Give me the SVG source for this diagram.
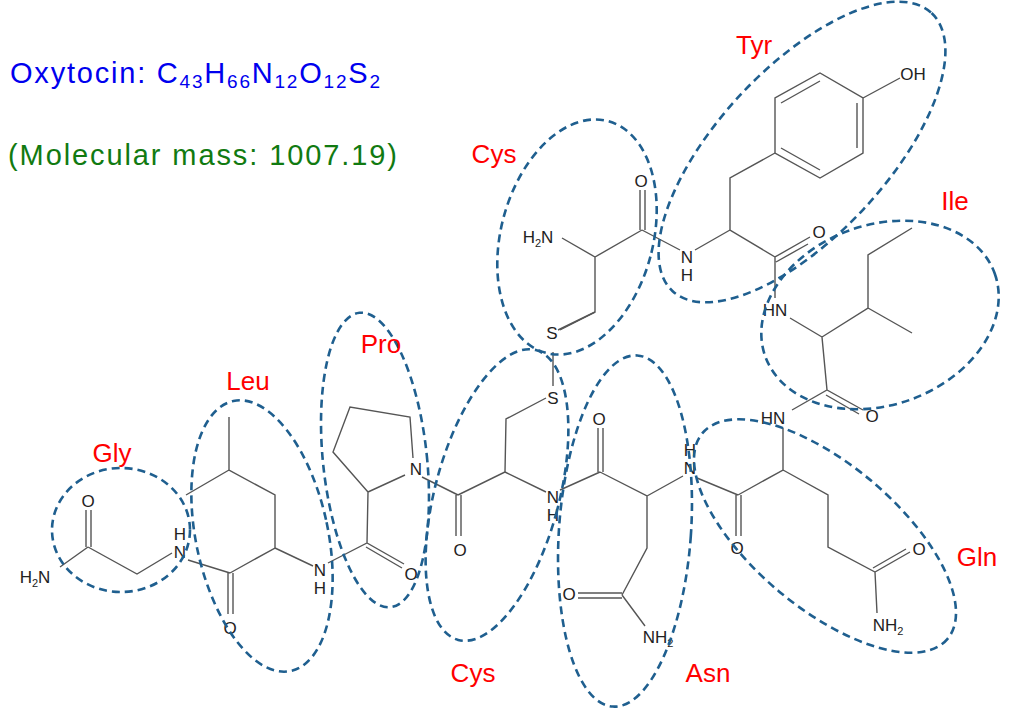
<svg xmlns="http://www.w3.org/2000/svg" width="1024" height="711" viewBox="0 0 1024 711">
<style>
.b{stroke:#555;stroke-width:1.4;fill:none}
.a{font-family:"Liberation Sans",Arial,sans-serif;font-size:17px;fill:#222;text-anchor:middle}
.s{font-size:11px}
.l{font-family:"Liberation Sans",Arial,sans-serif;font-size:26px;fill:#f00;text-anchor:middle}
.e{stroke:#1f5f8f;stroke-width:2.6;stroke-dasharray:8 5;fill:none}
</style>
<rect width="1024" height="711" fill="#fff"/>
<g id="title" font-family="'Liberation Sans',Arial,sans-serif">
<text x="10" y="83" font-size="29" fill="#0000ee" textLength="370" lengthAdjust="spacing">Oxytocin: C<tspan font-size="19" dy="5">43</tspan><tspan dy="-5">H</tspan><tspan font-size="19" dy="5">66</tspan><tspan dy="-5">N</tspan><tspan font-size="19" dy="5">12</tspan><tspan dy="-5">O</tspan><tspan font-size="19" dy="5">12</tspan><tspan dy="-5">S</tspan><tspan font-size="19" dy="5">2</tspan></text>
<text x="8" y="165" font-size="29" fill="#117a11" textLength="389" lengthAdjust="spacing">(Molecular mass: 1007.19)</text>
</g>
<g id="bonds">
<path class="b" d="M60,567L88,547M86,547V510M91,547V510M88,547L137,574L172,553"/>
<path class="b" d="M188,560L230,573M228,573V614M233,573V614M230,573L275,548V495L229,470V417M229,470L186,495M275,548L313,566"/>
<path class="b" d="M328,563L367,543L404,564M366,547L402,568M367,543L368,492L333,452L350,407L410,417L413,458M405,475L368,492"/>
<path class="b" d="M422,477L458,495M456,495V536M461,495V536M458,495L505,472L506,419L546,398M553,386V352M558,330L595,312M505,472L546,492"/>
<path class="b" d="M560,490L600,472M598,472V428M603,472V428M600,472L647,496V548L622,595M622,593H578M622,598H578M622,595L645,626M647,496L683,476"/>
<path class="b" d="M697,478L738,495M736,495V536M741,495V536M738,495L783,470V428M783,470L828,495V547L875,572L910,552M873,568L906,549M875,572L877,613"/>
<path class="b" d="M792,410L827,390L863,410M826,395L859,414M827,390L822,337L868,308V255L912,228M868,308L912,333M822,337L790,318"/>
<path class="b" d="M775,298V257L810,237M776,262L808,244M775,257L730,230V178L775,153"/>
<path class="b" d="M775,153V98L820,73L863,98V153L820,178Z"/>
<path class="b" d="M781,103L820,81M857,103V148M820,170L781,148M863,98L900,78"/>
<path class="b" d="M730,230L695,250M680,250L642,230M640,230V190M645,230V190M642,230L595,257L562,238M595,257V312L560,330"/>
</g>
<g id="atoms">
<text class="a" x="35" y="583">H<tspan class="s" dy="4">2</tspan><tspan dy="-4">N</tspan></text>
<text class="a" x="88" y="507">O</text>
<text class="a" x="180" y="540">H</text><text class="a" x="180" y="558">N</text>
<text class="a" x="230" y="634">O</text>
<text class="a" x="320" y="576">N</text><text class="a" x="320" y="594">H</text>
<text class="a" x="411" y="580">O</text>
<text class="a" x="416" y="475">N</text>
<text class="a" x="460" y="556">O</text>
<text class="a" x="553" y="404">S</text>
<text class="a" x="552" y="339">S</text>
<text class="a" x="553" y="503">N</text><text class="a" x="553" y="521">H</text>
<text class="a" x="599" y="425">O</text>
<text class="a" x="569" y="600">O</text>
<text class="a" x="658" y="643">NH<tspan class="s" dy="4">2</tspan></text>
<text class="a" x="690" y="456">H</text><text class="a" x="690" y="474">N</text>
<text class="a" x="737" y="554">O</text>
<text class="a" x="773" y="424">HN</text>
<text class="a" x="919" y="555">O</text>
<text class="a" x="888" y="631">NH<tspan class="s" dy="4">2</tspan></text>
<text class="a" x="872" y="422">O</text>
<text class="a" x="775" y="316">HN</text>
<text class="a" x="819" y="238">O</text>
<text class="a" x="913" y="80">OH</text>
<text class="a" x="687" y="263">N</text><text class="a" x="687" y="281">H</text>
<text class="a" x="641" y="187">O</text>
<text class="a" x="538" y="243">H<tspan class="s" dy="4">2</tspan><tspan dy="-4">N</tspan></text>
</g>
<g id="residues">
<ellipse class="e" cx="121" cy="530" rx="69" ry="62"/>
<ellipse class="e" cx="262" cy="536" rx="66" ry="138" transform="rotate(-12 262 536)"/>
<ellipse class="e" cx="375" cy="460" rx="52" ry="148" transform="rotate(-6 375 460)"/>
<ellipse class="e" cx="497" cy="495" rx="62" ry="150" transform="rotate(15 497 495)"/>
<ellipse class="e" cx="625" cy="531" rx="66" ry="176" transform="rotate(4 625 531)"/>
<ellipse class="e" cx="825" cy="536" rx="160" ry="72" transform="rotate(40 825 536)"/>
<ellipse class="e" cx="577" cy="237" rx="76" ry="120" transform="rotate(15 577 237)"/>
<ellipse class="e" cx="802" cy="152" rx="190" ry="84" transform="rotate(-47 802 152)"/>
<ellipse class="e" cx="880" cy="315" rx="122" ry="90" transform="rotate(-20 880 315)"/>
<text class="l" x="112" y="462">Gly</text>
<text class="l" x="248" y="390">Leu</text>
<text class="l" x="381" y="353">Pro</text>
<text class="l" x="494" y="163">Cys</text>
<text class="l" x="754" y="54">Tyr</text>
<text class="l" x="955" y="210">Ile</text>
<text class="l" x="977" y="566">Gln</text>
<text class="l" x="708" y="682">Asn</text>
<text class="l" x="473" y="682">Cys</text>
</g>
</svg>
